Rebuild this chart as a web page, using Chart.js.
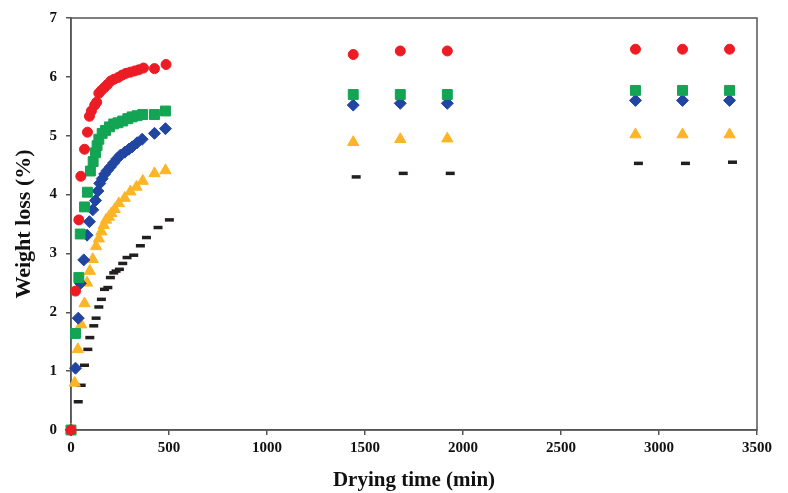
<!DOCTYPE html>
<html>
<head>
<meta charset="utf-8">
<script src="https://cdn.jsdelivr.net/npm/chart.js@4/dist/chart.umd.min.js"></script>
<style>
  html, body { margin: 0; padding: 0; background: #fff; }
  #wrap { width: 788px; height: 493px; }
</style>
</head>
<body>
<div id="wrap"><canvas id="chart"></canvas></div>
<script>
'use strict'

// ------------- data ------------- //
var redTime = [0, 23, 40, 50, 69, 84, 94, 104, 121, 131, 142, 155, 171, 186, 203, 220, 241, 261, 281, 303, 325, 346, 370, 426, 485, 1440, 1680, 1920, 2880, 3120, 3360];
var redLoss = [0, 2.36, 3.57, 4.31, 4.77, 5.06, 5.33, 5.42, 5.52, 5.57, 5.72, 5.77, 5.82, 5.87, 5.93, 5.96, 5.99, 6.03, 6.06, 6.08, 6.10, 6.12, 6.15, 6.14, 6.21, 6.38, 6.44, 6.44, 6.47, 6.47, 6.47];

var greenTime = [0, 23, 40, 47, 69, 84, 99, 113, 125, 133, 142, 159, 176, 196, 218, 240, 264, 290, 312, 337, 366, 426, 482, 1440, 1680, 1920, 2880, 3120, 3360];
var greenLoss = [0, 1.64, 2.59, 3.33, 3.79, 4.04, 4.40, 4.56, 4.71, 4.83, 4.94, 5.04, 5.09, 5.15, 5.20, 5.22, 5.25, 5.29, 5.32, 5.34, 5.36, 5.36, 5.42, 5.70, 5.70, 5.70, 5.77, 5.77, 5.77];

var blueTime = [0, 23, 37, 48, 65, 82, 94, 111, 125, 137, 147, 159, 172, 185, 201, 218, 235, 252, 274, 295, 312, 337, 363, 426, 482, 1440, 1680, 1920, 2880, 3120, 3360];
var blueLoss = [0, 1.05, 1.90, 2.49, 2.89, 3.31, 3.54, 3.74, 3.90, 4.06, 4.19, 4.27, 4.35, 4.41, 4.47, 4.54, 4.61, 4.67, 4.72, 4.77, 4.81, 4.88, 4.94, 5.04, 5.12, 5.52, 5.55, 5.55, 5.60, 5.60, 5.60];

var yellowTime = [0, 19, 35, 52, 69, 82, 96, 111, 128, 142, 155, 167, 179, 193, 206, 223, 244, 274, 303, 334, 366, 426, 482, 1440, 1680, 1920, 2880, 3120, 3360];
var yellowLoss = [0, 0.80, 1.37, 1.79, 2.15, 2.50, 2.70, 2.90, 3.12, 3.25, 3.37, 3.48, 3.57, 3.62, 3.68, 3.75, 3.85, 3.94, 4.05, 4.13, 4.23, 4.36, 4.41, 4.89, 4.94, 4.95, 5.02, 5.02, 5.02];

var blackTime = [0, 37, 52, 69, 86, 96, 116, 128, 142, 155, 171, 188, 201, 218, 230, 247, 264, 286, 320, 354, 385, 444, 502, 1455, 1695, 1935, 2895, 3135, 3375];
var blackLoss = [0, 0.48, 0.76, 1.10, 1.37, 1.57, 1.77, 1.90, 2.09, 2.22, 2.39, 2.42, 2.59, 2.67, 2.70, 2.73, 2.83, 2.93, 2.97, 3.13, 3.27, 3.44, 3.57, 4.30, 4.36, 4.36, 4.53, 4.53, 4.55];

var xTicks = [0, 500, 1000, 1500, 2000, 2500, 3000, 3500];
var yTicks = [0, 1, 2, 3, 4, 5, 6, 7];

var FONT = "'Liberation Serif', 'Times New Roman', serif";
var AXIS = '#555555';

function pts(xs, ys) {
  var out = [];
  for (let k = 0; k < xs.length; k++)
    out.push({ x: xs[k], y: ys[k] });
  return out;
}

function series(xs, ys, color, style, r) {
  return {
    data: pts(xs, ys),
    pointStyle: style,
    pointRadius: r,
    pointHoverRadius: r,
    backgroundColor: color,
    borderColor: color,
    borderWidth: style === 'line' ? 3.5 : 1,
    showLine: false,
    clip: false
  };
}

// box round the plot area (top and right edges)
var frame = {
  id: 'frame',
  beforeDatasetsDraw: function(chart) {
    var a = chart.chartArea, c = chart.ctx;
    c.save();
    c.strokeStyle = AXIS;
    c.lineWidth = 1.5;
    c.strokeRect(a.left, a.top, a.right - a.left, a.bottom - a.top);
    c.restore();
  }
};

var ctx = document.getElementById('chart').getContext('2d');
var myChart = new Chart(ctx, {
  type: 'scatter',
  data: {
    datasets: [
      series(redTime, redLoss, '#ED1C24', 'circle', 5),
      series(greenTime, greenLoss, '#13A454', 'rect', 7),
      series(blueTime, blueLoss, '#2146A2', 'rectRot', 6),
      series(yellowTime, yellowLoss, '#FBB526', 'triangle', 6.5),
      series(blackTime, blackLoss, '#231F20', 'line', 4.5)
    ]
  },
  options: {
    responsive: true,
    maintainAspectRatio: false,
    animation: false,
    layout: { padding: { top: 17, right: 31, left: 0, bottom: 0 } },
    plugins: { legend: { display: false }, tooltip: { enabled: false } },
    scales: {
      x: {
        type: 'linear',
        min: 0,
        max: 3500,
        afterBuildTicks: function(s) { s.ticks = xTicks.map(function(v) { return { value: v }; }); },
        afterFit: function(s) { s.height = 63; },
        grid: { drawOnChartArea: false, tickLength: 5, color: AXIS, lineWidth: 1.5 },
        border: { color: AXIS, width: 1.5 },
        ticks: {
          color: '#111',
          padding: 4,
          maxRotation: 0,
          callback: function(v) { return String(v); },
          font: { family: FONT, size: 15, weight: 'bold' }
        },
        title: {
          display: true,
          text: 'Drying time (min)',
          color: '#111',
          padding: { top: 0, bottom: 0 },
          font: { family: FONT, size: 21, weight: 'bold' }
        }
      },
      y: {
        type: 'linear',
        min: 0,
        max: 7,
        afterBuildTicks: function(s) { s.ticks = yTicks.map(function(v) { return { value: v }; }); },
        afterFit: function(s) { s.width = 71; },
        grid: { drawOnChartArea: false, tickLength: 5, color: AXIS, lineWidth: 1.5 },
        border: { color: AXIS, width: 1.5 },
        ticks: {
          color: '#111',
          padding: 9,
          callback: function(v) { return String(v); },
          font: { family: FONT, size: 15, weight: 'bold' }
        },
        title: {
          display: true,
          text: 'Weight loss (%)',
          color: '#111',
          padding: { top: 11, bottom: 0 },
          font: { family: FONT, size: 22, weight: 'bold' }
        }
      }
    }
  },
  plugins: [frame]
});
</script>
</body>
</html>
